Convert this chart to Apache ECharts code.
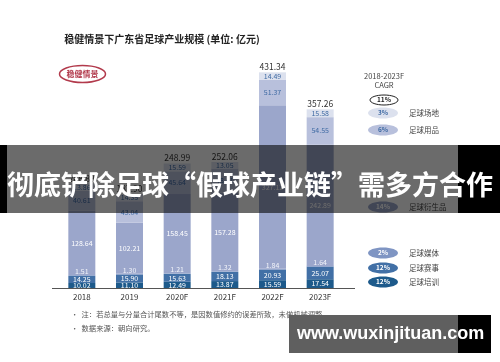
<!DOCTYPE html>
<html>
<head>
<meta charset="utf-8">
<script src="https://cdn.jsdelivr.net/npm/echarts@6/dist/echarts.min.js"></script>
<style>
html,body{margin:0;padding:0;background:#fff;}
#c{width:500px;height:362px;}
</style>
</head>
<body>
<div id="c"></div>
<script>
// ---- data ----
var categories = ['2018', '2019', '2020F', '2021F', '2022F', '2023F'];
var training    = [10.02, 11.10, 12.49, 13.87, 15.59, 17.54];   // 足球培训
var events      = [14.25, 15.90, 15.63, 18.13, 20.93, 25.07];   // 足球赛事
var media       = [1.51, 1.30, 1.21, 1.32, 1.84, 1.64];         // 足球媒体
var derivatives = [128.64, 102.21, 158.45, 157.28, 327.12, 242.89]; // 足球衍生品
var goods       = [40.61, 43.04, 45.64, 48.41, 51.37, 54.55];   // 足球用品
var venues      = [13.86, 14.35, 15.59, 13.05, 14.49, 15.58];   // 足球场地
var totals      = [208.89, 187.90, 248.99, 252.06, 431.34, 357.26];

var legendNames = ['足球场地', '足球用品', '足球衍生品', '足球媒体', '足球赛事', '足球培训'];
var legendCagr  = ['3%', '6%', '14%', '2%', '12%', '12%'];
var totalCagr   = '11%';

var title = '稳健情景下广东省足球产业规模 (单位: 亿元)';
var notes = ['注：若总量与分量合计尾数不等，是因数值修约的误差所致，未做机械调整。', '数据来源：朝向研究。'];
var bannerText = '彻底铲除足球“假球产业链”需多方合作';
var siteText = 'www.wuxinjituan.com';

// ---- styles ----
var FONT = '"Noto Sans CJK SC", "Noto Sans", sans-serif';
var colors = {
  training: '#1d5a8b', events: '#4270a6', media: '#7f95c3',
  derivatives: '#9ba6cb', goods: '#b8c0dc', venues: '#dce1ee'
};
var legendFill = [colors.venues, colors.goods, colors.derivatives, colors.media, colors.events, colors.training];
var legendTextColor = ['#3f6aa3', '#3f6aa3', '#ffffff', '#ffffff', '#ffffff', '#ffffff'];
var legendY = [113, 130, 207, 253, 268, 282];

function seg(name, data, color, labelColor, pos, dist) {
  return {
    name: name, type: 'bar', stack: 'total', data: data, barWidth: 27,
    itemStyle: { color: color },
    label: {
      show: true, position: pos || 'inside', distance: dist || 0,
      color: labelColor, fontSize: 7, fontFamily: FONT,
      formatter: function (p) { return p.value.toFixed(2); }
    },
    emphasis: { disabled: true }
  };
}

var series = [
  seg('足球培训', training, colors.training, '#ffffff'),
  seg('足球赛事', events, colors.events, '#ffffff'),
  seg('足球媒体', media, colors.media, '#f2f4fa', 'top', 0),
  seg('足球衍生品', derivatives, colors.derivatives, '#ffffff'),
  seg('足球用品', goods, colors.goods, '#3f6aa3'),
  seg('足球场地', venues, colors.venues, '#3f6aa3'),
  {
    name: '总计', type: 'bar', stack: 'total', barWidth: 27,
    data: totals.map(function () { return 0; }),
    itemStyle: { color: 'transparent' },
    label: {
      show: true, position: 'top', distance: 1, color: '#333', fontSize: 8.5, fontFamily: FONT,
      formatter: function (p) { return totals[p.dataIndex].toFixed(2); }
    },
    emphasis: { disabled: true }
  }
];

var graphic = [];
// axis line extension
graphic.push({ type: 'line', shape: { x1: 52, y1: 288.5, x2: 355, y2: 288.5 }, style: { stroke: '#555', lineWidth: 1 }, z: 10 });
// title
graphic.push({ type: 'text', x: 162, y: 39, style: { text: title, font: 'bold 10px ' + FONT, fill: '#222', align: 'center', verticalAlign: 'middle' } });
// scenario badge
graphic.push({ type: 'ellipse', shape: { cx: 82.5, cy: 74, rx: 23, ry: 8.5 }, style: { fill: '#fff', stroke: '#b23a4c', lineWidth: 1.5 } });
graphic.push({ type: 'text', x: 82.5, y: 74, style: { text: '稳健情景', font: 'bold 8px ' + FONT, fill: '#b23a4c', align: 'center', verticalAlign: 'middle' } });
// CAGR header
graphic.push({ type: 'text', x: 384, y: 76, style: { text: '2018-2023F', font: '7.5px ' + FONT, fill: '#444', align: 'center', verticalAlign: 'middle' } });
graphic.push({ type: 'text', x: 384, y: 85, style: { text: 'CAGR', font: '7.5px ' + FONT, fill: '#444', align: 'center', verticalAlign: 'middle' } });
graphic.push({ type: 'ellipse', shape: { cx: 384, cy: 100, rx: 14, ry: 5 }, style: { fill: '#fff', stroke: '#222', lineWidth: 1 } });
graphic.push({ type: 'text', x: 384, y: 100, style: { text: totalCagr, font: 'bold 6.5px ' + FONT, fill: '#222', align: 'center', verticalAlign: 'middle' } });
for (var i = 0; i < legendNames.length; i++) {
  graphic.push({ type: 'ellipse', shape: { cx: 383, cy: legendY[i], rx: 15, ry: 5.5 }, style: { fill: legendFill[i] } });
  graphic.push({ type: 'text', x: 383, y: legendY[i], style: { text: legendCagr[i], font: 'bold 6.5px ' + FONT, fill: legendTextColor[i], align: 'center', verticalAlign: 'middle' } });
  graphic.push({ type: 'text', x: 409, y: legendY[i], style: { text: legendNames[i], font: '7.5px ' + FONT, fill: '#444', align: 'left', verticalAlign: 'middle' } });
}
// notes
for (var k = 0; k < notes.length; k++) {
  graphic.push({ type: 'text', x: 71, y: 314 + k * 14.5, style: { text: '•  ' + notes[k], font: '7.3px ' + FONT, fill: '#555', align: 'left', verticalAlign: 'middle' } });
}
// overlay banner
graphic.push({ type: 'rect', shape: { x: 0, y: 145, width: 500, height: 68 }, style: { fill: 'rgba(0,0,0,0.58)' }, z: 100 });
graphic.push({ type: 'rect', shape: { x: 0, y: 145, width: 7, height: 68 }, style: { fill: '#000' }, z: 101 });
graphic.push({ type: 'rect', shape: { x: 458, y: 145, width: 42, height: 68 }, style: { fill: '#000' }, z: 101 });
graphic.push({ type: 'text', x: 250, y: 185, style: { text: bannerText, font: 'bold 27px ' + FONT, fill: '#fff', align: 'center', verticalAlign: 'middle' }, z: 102 });
// site watermark
graphic.push({ type: 'rect', shape: { x: 289, y: 315, width: 169, height: 38 }, style: { fill: '#5f5f5f' }, z: 100 });
graphic.push({ type: 'rect', shape: { x: 458, y: 315, width: 33, height: 38 }, style: { fill: '#000' }, z: 100 });
graphic.push({ type: 'text', x: 297, y: 334, style: { text: siteText, font: 'bold 18px "Liberation Sans", sans-serif', fill: '#fff', align: 'left', verticalAlign: 'middle' }, z: 102 });

var chart = echarts.init(document.getElementById('c'), null, { renderer: 'canvas' });
chart.setOption({
  animation: false,
  backgroundColor: '#fff',
  grid: { left: 58, top: 38, width: 286, height: 250 },
  xAxis: {
    type: 'category', data: categories,
    axisLine: { show: false }, axisTick: { show: false },
    axisLabel: { color: '#333', fontSize: 8, margin: 5, fontFamily: FONT }
  },
  yAxis: { type: 'value', min: 0, max: 500, show: false, splitLine: { show: false } },
  series: series,
  graphic: graphic
});
</script>
</body>
</html>
